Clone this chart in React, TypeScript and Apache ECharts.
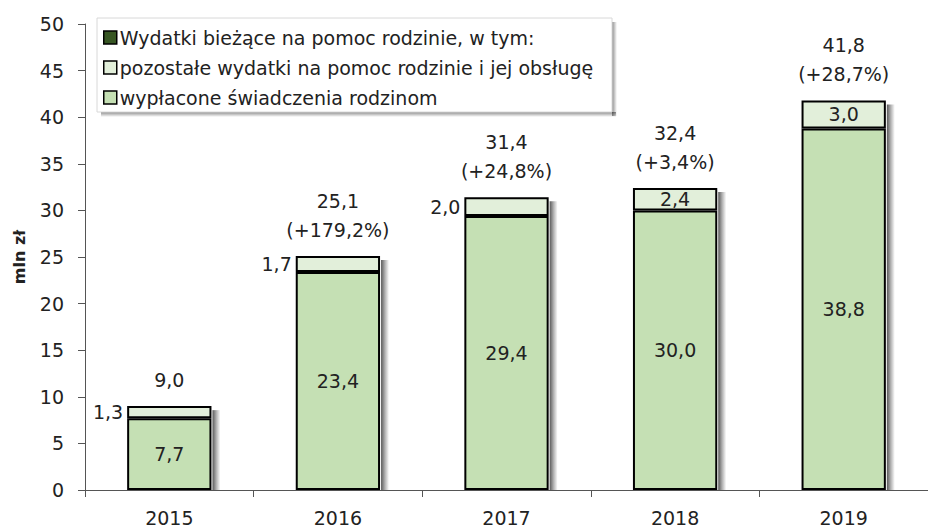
import React, { useEffect, useRef } from "react";
import * as echarts from "echarts";

const years = ["2015", "2016", "2017", "2018", "2019"];
const paidBenefits = [7.7, 23.4, 29.4, 30.0, 38.8];
const otherExpenses = [1.3, 1.7, 2.0, 2.4, 3.0];
const totals = [9.0, 25.1, 31.4, 32.4, 41.8];
const changes: (number | null)[] = [null, 179.2, 24.8, 3.4, 28.7];
const otherLabelPos = ["left", "left", "left", "inside", "inside"];

const seriesNames = [
  "Wydatki bieżące na pomoc rodzinie, w tym:",
  "pozostałe wydatki na pomoc rodzinie i jej obsługę",
  "wypłacone świadczenia rodzinom",
];

const fmt = (v: number) => v.toFixed(1).replace(".", ",");
const FONT = "DejaVu Sans";
const FS = 19;

export default function App() {
  const ref = useRef<HTMLDivElement>(null);
  useEffect(() => {
    const chart = echarts.init(ref.current!, undefined, { renderer: "svg" });
    const border = { borderColor: "#000", borderWidth: 2 };
    const labelText = { fontFamily: FONT, fontSize: FS, color: "#222" };
    const shadowGrad = new echarts.graphic.LinearGradient(0, 0, 1, 0, [
      { offset: 0, color: "rgba(0,0,0,0.65)" },
      { offset: 0.5, color: "rgba(0,0,0,0.3)" },
      { offset: 1, color: "rgba(0,0,0,0)" },
    ]);
    const legendBox = { x: 97, y: 18, w: 515, h: 94 };
    chart.setOption({
      animation: false,
      textStyle: { fontFamily: FONT },
      graphic: [
        {
          type: "rect",
          z: 0,
          shape: { x: legendBox.x + 4, y: legendBox.y + legendBox.h, width: legendBox.w, height: 5 },
          style: {
            fill: new echarts.graphic.LinearGradient(0, 0, 0, 1, [
              { offset: 0, color: "rgba(0,0,0,0.45)" },
              { offset: 1, color: "rgba(0,0,0,0)" },
            ]),
          },
        },
        {
          type: "rect",
          z: 0,
          shape: { x: legendBox.x + legendBox.w, y: legendBox.y + 4, width: 5, height: legendBox.h },
          style: {
            fill: new echarts.graphic.LinearGradient(0, 0, 1, 0, [
              { offset: 0, color: "rgba(0,0,0,0.45)" },
              { offset: 1, color: "rgba(0,0,0,0)" },
            ]),
          },
        },
        {
          type: "rect",
          z: 0,
          shape: { x: legendBox.x, y: legendBox.y, width: legendBox.w, height: legendBox.h },
          style: { fill: "#fff", stroke: "#d8d8d8", lineWidth: 1 },
        },
      ],
      legend: {
        data: seriesNames,
        orient: "vertical",
        left: 97,
        top: 18,
        padding: [9, 10, 6, 6],
        itemGap: 9,
        itemWidth: 13,
        itemHeight: 13,
        icon: "rect",
        z: 5,
        itemStyle: { borderColor: "#000", borderWidth: 1.5 },
        textStyle: { fontFamily: FONT, fontSize: FS, color: "#222", lineHeight: 21, padding: [0, 0, 0, -2] },
      },
      grid: { left: 85, right: -12, top: 24, bottom: 38 },
      xAxis: {
        type: "category",
        data: years,
        axisLine: { lineStyle: { color: "#555", width: 1 } },
        axisTick: { show: true, length: 7, lineStyle: { color: "#555" } },
        axisLabel: { fontFamily: FONT, fontSize: FS, color: "#222", margin: 18 },
      },
      yAxis: {
        type: "value",
        min: 0,
        max: 50,
        interval: 5,
        name: "mln zł",
        nameLocation: "middle",
        nameGap: 58,
        nameTextStyle: { fontFamily: FONT, fontSize: 16, fontWeight: "bold", color: "#222" },
        axisLine: { show: true, lineStyle: { color: "#555", width: 1 } },
        axisTick: { show: true, length: 7, lineStyle: { color: "#555" } },
        axisLabel: { fontFamily: FONT, fontSize: FS, color: "#222", margin: 21 },
        splitLine: { show: false },
      },
      series: [
        {
          type: "custom",
          silent: true,
          z: 1,
          data: totals.map((t, i) => [i, t]),
          renderItem: (params: any, api: any) => {
            const i = api.value(0);
            const top = api.coord([i, api.value(1)]);
            const base = api.coord([i, 0]);
            const w = api.size([1, 0])[0] * 0.5;
            return {
              type: "rect",
              shape: { x: top[0] + w / 2 + 1, y: top[1] + 4, width: 8, height: base[1] - top[1] - 4 },
              style: { fill: shadowGrad },
            };
          },
        },
        {
          name: seriesNames[2],
          type: "bar",
          stack: "total",
          barWidth: "50%",
          z: 2,
          data: paidBenefits,
          itemStyle: { color: "#c5e0b4", ...border },
          label: { show: true, position: "inside", formatter: (p: any) => fmt(p.value), ...labelText },
        },
        {
          name: seriesNames[1],
          type: "bar",
          stack: "total",
          z: 2,
          data: otherExpenses.map((v, i) => ({
            value: v,
            label: { position: otherLabelPos[i], distance: 4 },
          })),
          itemStyle: { color: "#e2efda", ...border },
          label: { show: true, formatter: (p: any) => fmt(p.value), ...labelText },
        },
        {
          name: seriesNames[0],
          type: "bar",
          stack: "total",
          z: 2,
          data: totals.map(() => ({
            value: 0,
            itemStyle: { color: "transparent", borderWidth: 0 },
          })),
          itemStyle: { color: "#375623", borderColor: "#000", borderWidth: 1.5 },
          label: {
            show: true,
            position: "top",
            distance: 12,
            lineHeight: 29,
            align: "center",
            formatter: (p: any) => {
              const i = p.dataIndex;
              const c = changes[i];
              return c === null ? fmt(totals[i]) : `${fmt(totals[i])}\n(+${fmt(c)}%)`;
            },
            ...labelText,
          },
        },
      ],
    });
    return () => chart.dispose();
  }, []);
  return (
    <div
      ref={ref}
      style={{ position: "fixed", left: 0, top: 0, width: 928, height: 528, background: "#fff" }}
    />
  );
}
